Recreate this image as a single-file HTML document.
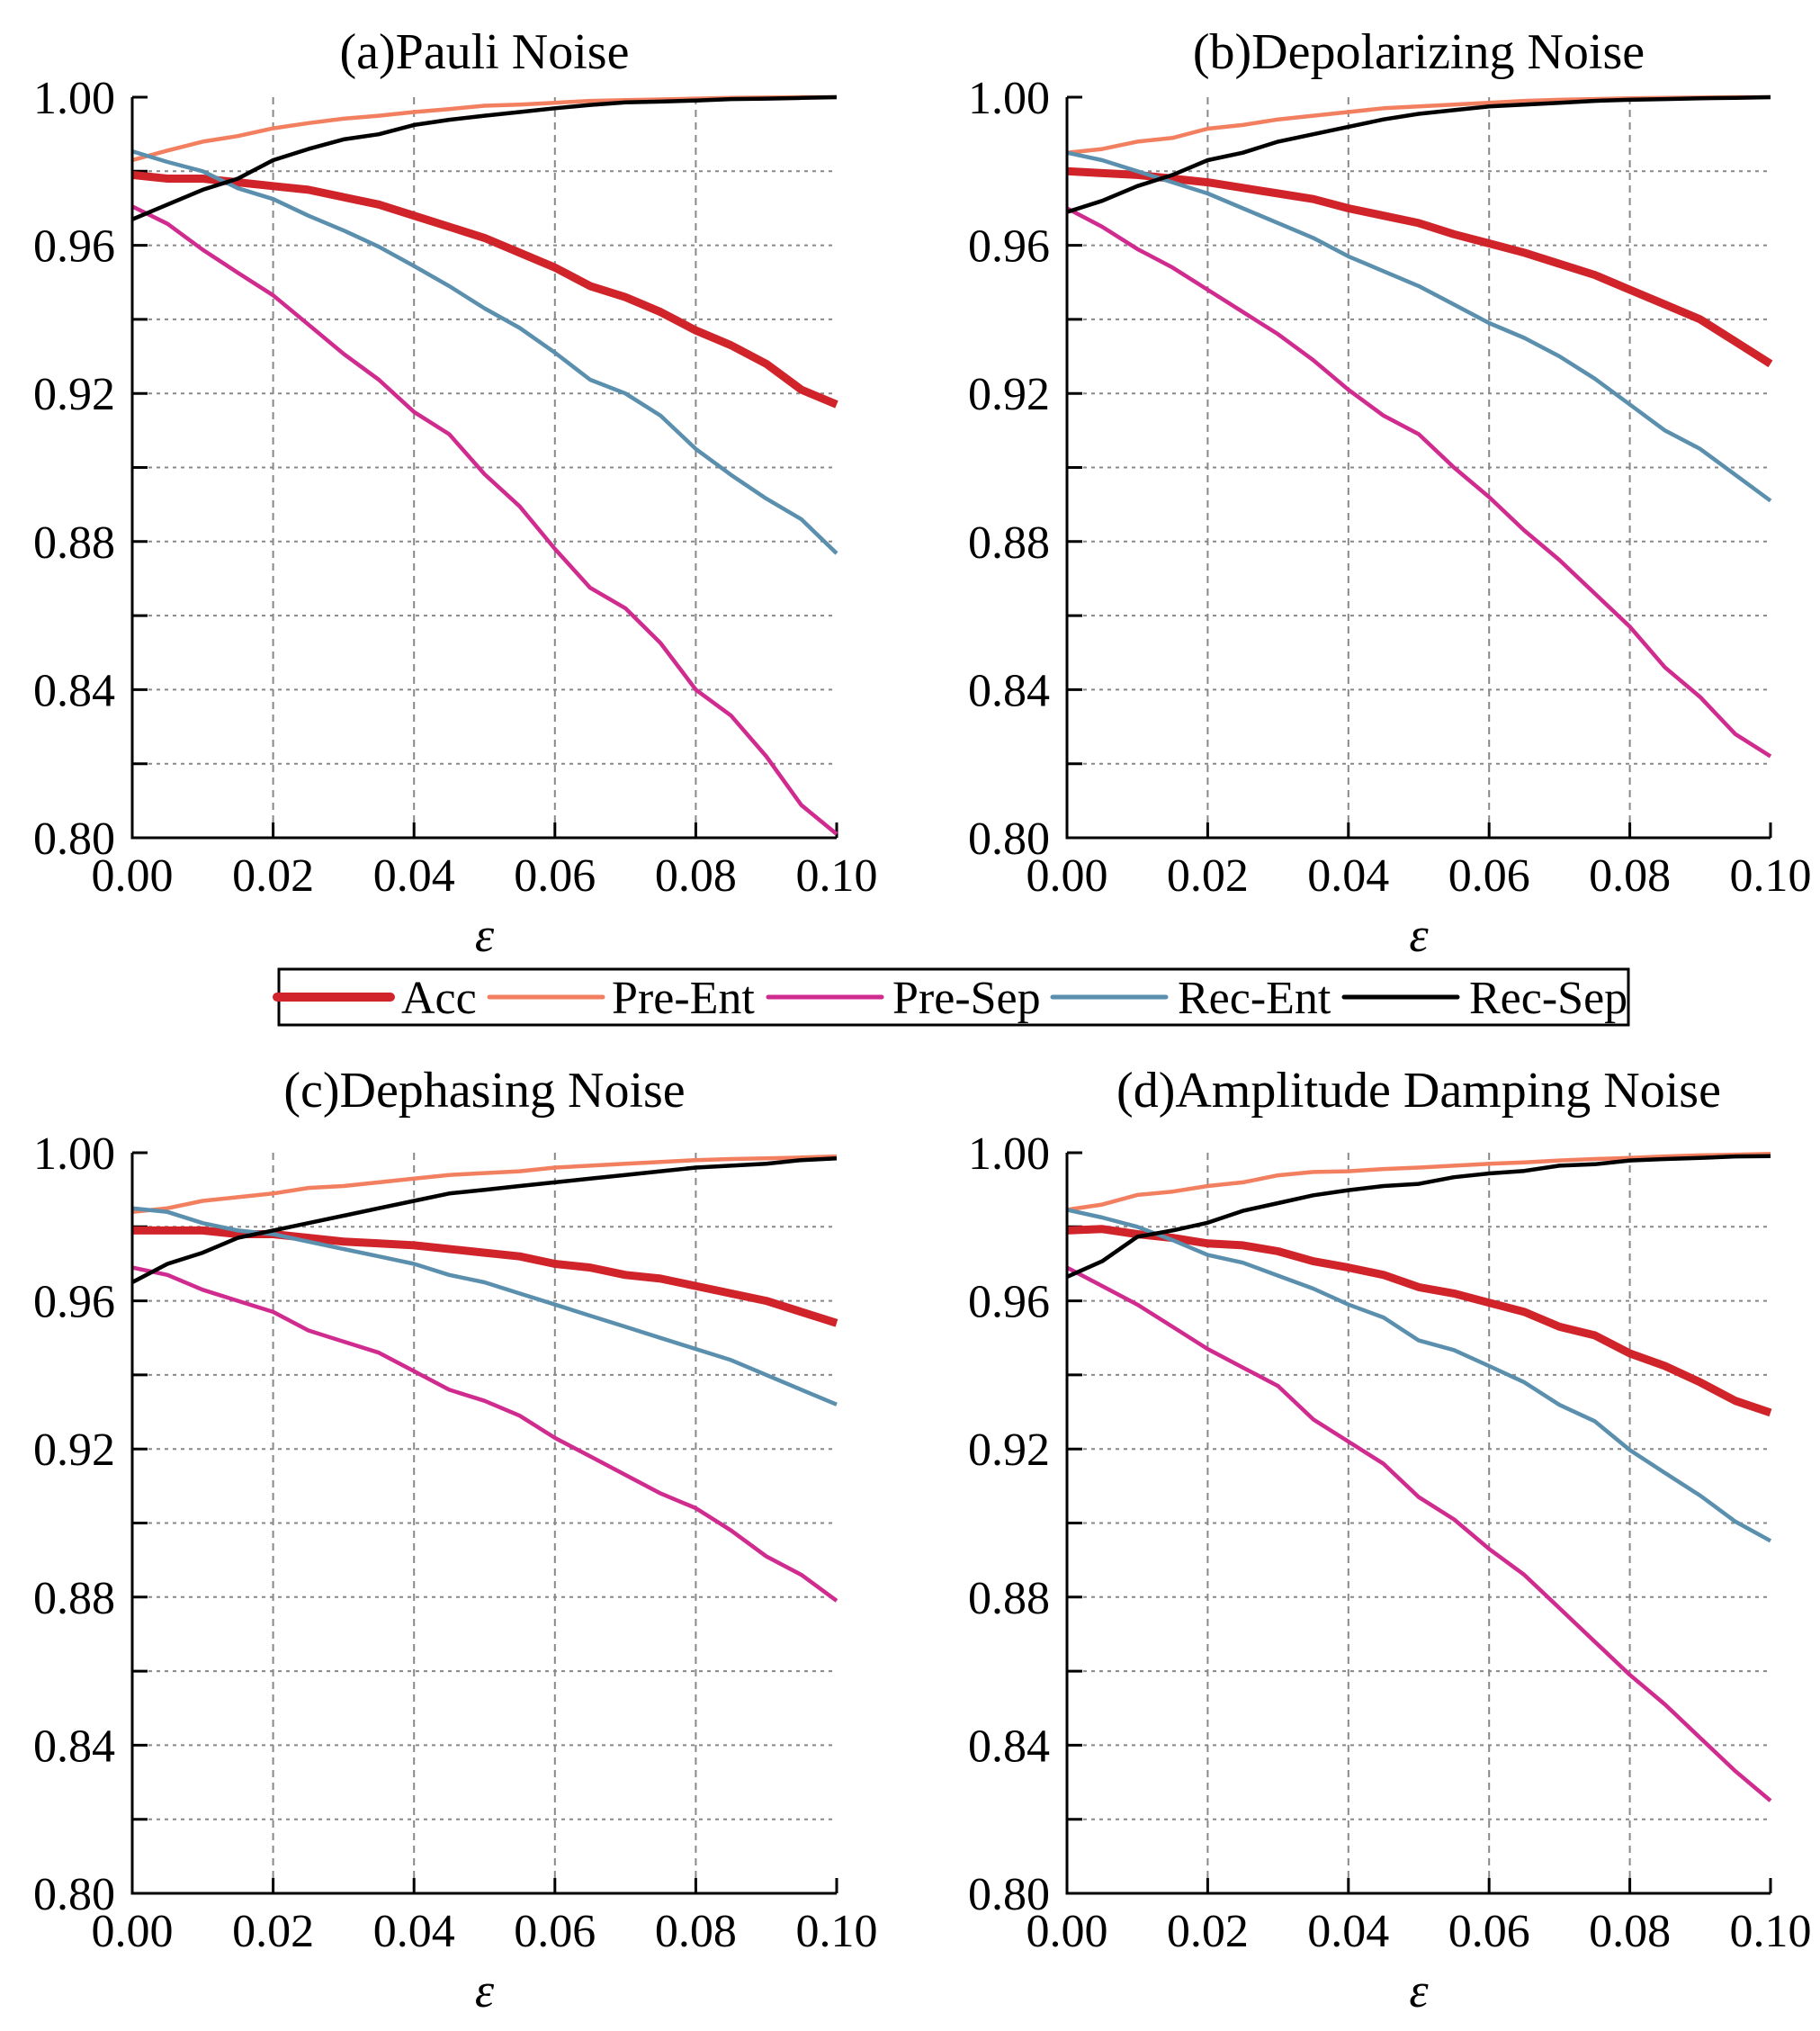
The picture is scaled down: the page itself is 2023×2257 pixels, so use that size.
<!DOCTYPE html>
<html><head><meta charset="utf-8"><style>
html,body{margin:0;padding:0;background:#fff;}
svg{display:block;font-family:"Liberation Serif",serif;}
</style></head><body>
<svg id="chart" width="2023" height="2257" viewBox="0 0 2023 2257" xmlns="http://www.w3.org/2000/svg"></svg>
<script>
const xValues = [0,0.005,0.01,0.015,0.02,0.025,0.03,0.035,0.04,0.045,0.05,0.055,0.06,0.065,0.07,0.075,0.08,0.085,0.09,0.095,0.1];
const xTickLabels = ["0.00","0.02","0.04","0.06","0.08","0.10"];
const yTickLabels = ["0.80","0.84","0.88","0.92","0.96","1.00"];
const seriesNames = ["Acc","Pre-Ent","Pre-Sep","Rec-Ent","Rec-Sep"];
const panelTitles = ["(a)Pauli Noise","(b)Depolarizing Noise","(c)Dephasing Noise","(d)Amplitude Damping Noise"];

const pauliAcc = [0.979,0.978,0.978,0.977,0.976,0.975,0.973,0.971,0.968,0.965,0.962,0.958,0.954,0.949,0.946,0.942,0.937,0.933,0.928,0.921,0.917];
const pauliPreEnt = [0.983,0.9856,0.988,0.9895,0.9916,0.993,0.9942,0.995,0.996,0.9968,0.9977,0.998,0.9985,0.999,0.9992,0.9994,0.9996,0.9998,0.9999,1.0,1.0];
const pauliPreSep = [0.9705,0.9658,0.9588,0.9526,0.9465,0.9386,0.9307,0.9237,0.915,0.909,0.8982,0.8895,0.878,0.8675,0.862,0.8526,0.840,0.833,0.822,0.8088,0.801];
const pauliRecEnt = [0.9854,0.9825,0.980,0.9754,0.9725,0.968,0.964,0.9596,0.9544,0.949,0.943,0.9377,0.931,0.9237,0.920,0.914,0.905,0.898,0.8916,0.886,0.8768];
const pauliRecSep = [0.967,0.971,0.975,0.978,0.983,0.986,0.9886,0.990,0.9925,0.9939,0.995,0.996,0.997,0.9979,0.9986,0.9988,0.9991,0.9995,0.9996,0.9998,1.0];

const depolAcc = [0.980,0.9795,0.979,0.978,0.977,0.9755,0.974,0.9725,0.970,0.968,0.966,0.963,0.9605,0.958,0.955,0.952,0.948,0.944,0.940,0.934,0.928];
const depolPreEnt = [0.985,0.986,0.988,0.989,0.9915,0.9925,0.994,0.995,0.996,0.997,0.9975,0.998,0.9985,0.999,0.9993,0.9995,0.9997,0.9998,0.9999,1.0,1.0];
const depolPreSep = [0.970,0.965,0.959,0.954,0.948,0.942,0.936,0.929,0.921,0.914,0.909,0.900,0.892,0.883,0.875,0.866,0.857,0.846,0.838,0.828,0.822];
const depolRecEnt = [0.985,0.983,0.980,0.977,0.974,0.970,0.966,0.962,0.957,0.953,0.949,0.944,0.939,0.935,0.930,0.924,0.917,0.910,0.905,0.898,0.891];
const depolRecSep = [0.969,0.972,0.976,0.979,0.983,0.985,0.988,0.990,0.992,0.994,0.9955,0.9965,0.9975,0.998,0.9985,0.999,0.9993,0.9995,0.9997,0.9998,1.0];

const dephAcc = [0.979,0.979,0.979,0.978,0.978,0.977,0.976,0.9755,0.975,0.974,0.973,0.972,0.970,0.969,0.967,0.966,0.964,0.962,0.960,0.957,0.954];
const dephPreEnt = [0.984,0.985,0.987,0.988,0.989,0.9905,0.991,0.992,0.993,0.994,0.9945,0.995,0.996,0.9965,0.997,0.9975,0.998,0.9983,0.9985,0.9987,0.999];
const dephPreSep = [0.969,0.967,0.963,0.960,0.957,0.952,0.949,0.946,0.941,0.936,0.933,0.929,0.923,0.918,0.913,0.908,0.904,0.898,0.891,0.886,0.879];
const dephRecEnt = [0.985,0.984,0.981,0.979,0.978,0.976,0.974,0.972,0.970,0.967,0.965,0.962,0.959,0.956,0.953,0.950,0.947,0.944,0.940,0.936,0.932];
const dephRecSep = [0.965,0.970,0.973,0.977,0.979,0.981,0.983,0.985,0.987,0.989,0.990,0.991,0.992,0.993,0.994,0.995,0.996,0.9965,0.997,0.998,0.9985];

const ampAcc = [0.979,0.9794,0.978,0.977,0.9755,0.975,0.9734,0.9707,0.969,0.967,0.9637,0.962,0.9595,0.957,0.953,0.9507,0.9458,0.9424,0.938,0.933,0.9298];
const ampPreEnt = [0.9846,0.986,0.9886,0.9895,0.991,0.992,0.9939,0.9948,0.995,0.9956,0.996,0.9965,0.997,0.9974,0.9979,0.9983,0.9986,0.999,0.9993,0.9995,0.9997];
const ampPreSep = [0.969,0.964,0.959,0.953,0.947,0.942,0.937,0.928,0.922,0.916,0.907,0.901,0.893,0.886,0.877,0.868,0.859,0.851,0.842,0.833,0.825];
const ampRecEnt = [0.9846,0.9825,0.980,0.9764,0.9724,0.9703,0.9668,0.9633,0.959,0.9555,0.9493,0.9467,0.9424,0.938,0.9319,0.9275,0.9197,0.9135,0.9074,0.9004,0.8952];
const ampRecSep = [0.9665,0.9707,0.9773,0.979,0.9811,0.9843,0.9864,0.9885,0.9899,0.991,0.9916,0.9934,0.9944,0.9951,0.9965,0.9969,0.9979,0.9983,0.9986,0.999,0.9991];

const panelSeries = [
  [pauliAcc,pauliPreEnt,pauliPreSep,pauliRecEnt,pauliRecSep],
  [depolAcc,depolPreEnt,depolPreSep,depolRecEnt,depolRecSep],
  [dephAcc,dephPreEnt,dephPreSep,dephRecEnt,dephRecSep],
  [ampAcc,ampPreEnt,ampPreSep,ampRecEnt,ampRecSep]
];

const NS = "http://www.w3.org/2000/svg";
const svg = document.getElementById("chart");
const colors = ["#d0242a","#f28060","#d02c8f","#5b8fae","#000000"];
const widths = [9,4.5,4.5,4.5,4.5];
const layout = [
  {l:147,r:930,t:108,b:931,title:76},
  {l:1186,r:1968,t:108,b:931,title:76},
  {l:147,r:930,t:1281,b:2104,title:1230},
  {l:1186,r:1968,t:1281,b:2104,title:1230}
];
function mk(tag, attrs, parent){
  const e = document.createElementNS(NS, tag);
  for (const k in attrs) e.setAttribute(k, attrs[k]);
  (parent||svg).appendChild(e);
  return e;
}
const panelNames = ["pauli","depolarizing","dephasing","amplitude-damping"];
layout.forEach((P, pi) => {
  const g = mk("g", {});
  
  
  const xs = v => P.l + (v - 0) / 0.1 * (P.r - P.l);
  const ys = v => P.b - (v - 0.80) / 0.20 * (P.b - P.t);
  for (let i = 1; i < 10; i++) {
    const v = 0.80 + i * 0.02;
    const yy = ys(v);
    const gl = mk("line", {x1:P.l, x2:P.r, y1:yy, y2:yy, stroke:"#888", "stroke-width":2, "stroke-dasharray":"4 5"}, g);
    
    
    const tk = mk("line", {x1:P.l, x2:P.l+17, y1:yy, y2:yy, stroke:"#000", "stroke-width":3}, g);
    
    
  }
  const topTick = mk("line", {x1:P.l, x2:P.l+17, y1:P.t, y2:P.t, stroke:"#000", "stroke-width":3}, g);
  
  
  for (let i = 1; i < 5; i++) {
    const xx = xs(i * 0.02);
    const gl = mk("line", {x1:xx, x2:xx, y1:P.t, y2:P.b, stroke:"#888", "stroke-width":2, "stroke-dasharray":"8 6"}, g);
    
    
    const tk = mk("line", {x1:xx, x2:xx, y1:P.b, y2:P.b-17, stroke:"#000", "stroke-width":3}, g);
    
    
  }
  const rt = mk("line", {x1:P.r, x2:P.r, y1:P.b, y2:P.b-17, stroke:"#000", "stroke-width":3}, g);
  
  
  panelSeries[pi].forEach((arr, si) => {
    const d = arr.map((v, k) => (k ? "L" : "M") + xs(xValues[k]).toFixed(1) + " " + ys(v).toFixed(1)).join(" ");
    const p = mk("path", {d:d, fill:"none", stroke:colors[si], "stroke-width":widths[si], "stroke-linejoin":"round", "stroke-linecap":"butt"}, g);
    
    
  });
  const ax = mk("path", {d:`M${P.l} ${P.t} L${P.l} ${P.b} L${P.r} ${P.b}`, fill:"none", stroke:"#000", "stroke-width":3}, g);
  
  
  yTickLabels.forEach((lab, i) => {
    const v = 0.80 + i * 0.04;
    const t = mk("text", {x:P.l-19, y:ys(v)+18, "text-anchor":"end", "font-size":52}, g);
    t.textContent = lab;
    
    
  });
  xTickLabels.forEach((lab, i) => {
    const t = mk("text", {x:xs(i*0.02), y:P.b+59, "text-anchor":"middle", "font-size":52}, g);
    t.textContent = lab;
    
    
  });
  const xl = mk("text", {x:(P.l+P.r)/2, y:P.b+126, "text-anchor":"middle", "font-size":54, "font-style":"italic"}, g);
  xl.textContent = "ε";
  
  
  const tt = mk("text", {x:(P.l+P.r)/2, y:P.title, "text-anchor":"middle", "font-size":56}, g);
  tt.textContent = panelTitles[pi];
  
  
});
const lg = mk("g", {});


const box = mk("rect", {x:310, y:1077, width:1500, height:62, fill:"#fff", stroke:"#000", "stroke-width":3}, lg);


const legLineX = [308,544,854,1170,1494];
const legTextX = [446,680,992,1309,1633];
seriesNames.forEach((n, i) => {
  const ln = mk("line", {x1:legLineX[i], x2:legLineX[i]+126, y1:1108, y2:1108, stroke:colors[i], "stroke-width":widths[i]==9?10:5, "stroke-linecap":"round"}, lg);
  
  
  const t = mk("text", {x:legTextX[i], y:1126, "font-size":52}, lg);
  t.textContent = n;
  
  
});
</script>
</body></html>
